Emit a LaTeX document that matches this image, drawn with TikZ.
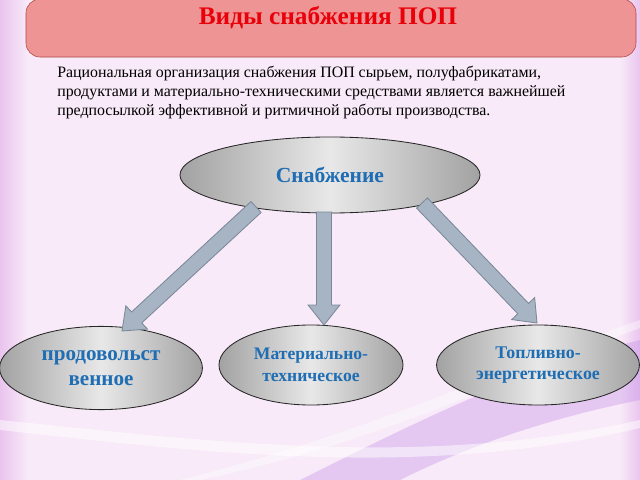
\documentclass[tikz,border=0pt]{standalone}
\usepackage{fontspec}
\setmainfont{Liberation Serif}
\usetikzlibrary{calc, shapes.geometric, positioning}
\definecolor{bglight}{HTML}{F8EAF8}
\definecolor{bgside}{HTML}{EAC4EE}
\definecolor{swoosh}{HTML}{C08AE8}
\definecolor{titlefill}{HTML}{EE9494}
\definecolor{titleline}{HTML}{B04848}
\definecolor{titlered}{HTML}{E8000A}
\definecolor{labelblue}{HTML}{1F6DB3}
\definecolor{arrowfill}{HTML}{A6B4C4}
\definecolor{arrowline}{HTML}{7A8898}
\definecolor{ovalgray}{HTML}{A2A2A2}
\definecolor{ovallight}{HTML}{E8E8E8}

\tikzset{
  oval/.style={ellipse, draw=black!85, line width=0.6pt, inner sep=0pt,
    left color=ovalgray, right color=ovalgray, middle color=ovallight,
    text=labelblue, font=\bfseries, align=center},
  barrow/.style={fill=arrowfill, draw=arrowline, line width=0.6pt}
}

% block arrow from #1 to #2 (shaft 15px, head 32px)
\newcommand{\blockarrow}[2]{%
  \coordinate (neck) at ($(#2)!14.2pt!(#1)$);
  \draw[barrow] ($(#1)!5.3pt!90:(#2)$) -- ($(neck)!5.3pt!-90:(#1)$)
    -- ($(neck)!11.3pt!-90:(#1)$) -- (#2) -- ($(neck)!11.3pt!90:(#1)$)
    -- ($(neck)!5.3pt!90:(#1)$) -- ($(#1)!5.3pt!-90:(#2)$) -- cycle;}

\begin{document}
\begin{tikzpicture}[x=0.025cm, y=-0.025cm]
\useasboundingbox (0,0) rectangle (640,480);
% background
\fill[bglight] (0,0) rectangle (640,480);
\fill[left color=bgside, right color=bglight] (0,0) rectangle (28,480);
\fill[left color=bglight, right color=bgside] (620,0) rectangle (640,480);
\fill[swoosh, opacity=0.35] (300,480) .. controls (420,420) and (520,370) .. (640,340)
  -- (640,400) .. controls (540,420) and (460,450) .. (400,480) -- cycle;
\fill[white, opacity=0.5] (0,420) .. controls (200,440) and (420,470) .. (640,420)
  -- (640,428) .. controls (420,480) and (200,452) .. (0,430) -- cycle;
\fill[white, opacity=0.4] (180,480) .. controls (380,430) and (520,360) .. (640,320)
  -- (640,328) .. controls (520,372) and (390,440) .. (200,480) -- cycle;

% title
\draw[titleline, fill=titlefill, rounded corners=10pt] (26,-1) rectangle (636,57);
\node[font=\bfseries\fontsize{18}{20}\selectfont, text=titlered] (title) at (328,18) {Виды снабжения ПОП};

% text
\node[anchor=north west, align=left, inner sep=0pt, font=\fontsize{11.3}{13.6}\selectfont] (para) at (57,66)
  {Рациональная организация снабжения ПОП сырьем, полуфабрикатами,\\
   продуктами и материально-техническими средствами является важнейшей\\
   предпосылкой эффективной и ритмичной работы производства.};

% ovals
\node[oval, minimum width=7.5cm, minimum height=1.9cm, font=\bfseries\fontsize{15.3}{17}\selectfont] (supply) at (330,175) {Снабжение};
\node[oval, minimum width=5.07cm, minimum height=2.08cm, font=\bfseries\fontsize{15}{18}\selectfont] (food) at (101,368) {продовольст\\венное};
\node[oval, minimum width=4.6cm, minimum height=2cm, font=\bfseries\fontsize{12.5}{15.5}\selectfont] (tech) at (311,365) {Материально-\\техническое};
\node[oval, minimum width=5.07cm, minimum height=2cm, font=\bfseries\fontsize{12.7}{15.5}\selectfont] (fuel) at (538,365) {Топливно-\\энергетическое};

% arrows
\coordinate (s1) at (256,207);
\coordinate (t1) at (122,331);
\coordinate (s2) at (324,212);
\coordinate (t2) at (324,325);
\coordinate (s3) at (422,203);
\coordinate (t3) at (537,323);
\blockarrow{s1}{t1}
\blockarrow{s2}{t2}
\blockarrow{s3}{t3}
\end{tikzpicture}
\end{document}
